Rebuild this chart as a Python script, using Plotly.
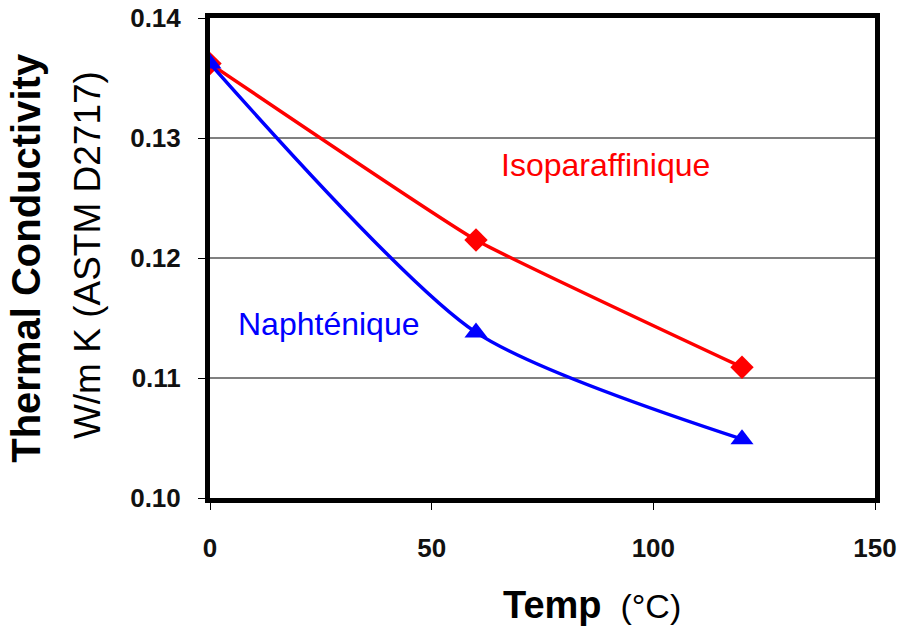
import plotly.graph_objects as go

temps = [0, 60, 120]
iso = [0.1362, 0.1215, 0.1109]
naph = [0.1362, 0.1138, 0.1049]
x_ticks = [0, 50, 100, 150]
y_ticks = [0.10, 0.11, 0.12, 0.13, 0.14]
y_ticklabels = ["0.10", "0.11", "0.12", "0.13", "0.14"]

fig = go.Figure()
fig.add_trace(go.Scatter(x=temps, y=iso, mode="lines+markers", name="Isoparaffinique",
                         line=dict(color="#ff0000", width=3.5, shape="spline", smoothing=0.35),
                         marker=dict(symbol="diamond", size=18, color="#ff0000")))
fig.add_trace(go.Scatter(x=temps, y=naph, mode="lines+markers", name="Naphténique",
                         line=dict(color="#0000ff", width=3.5, shape="spline", smoothing=0.7),
                         marker=dict(symbol="triangle-up", size=20, color="#0000ff")))

fig.add_annotation(x=89.3, y=0.12775, xref="x", yref="y", text="Isoparaffinique",
                   showarrow=False, font=dict(color="#ff0000", size=32, family="Liberation Sans"))
fig.add_annotation(x=26.8, y=0.1145, xref="x", yref="y", text="Naphténique",
                   showarrow=False, font=dict(color="#0000ff", size=32, family="Liberation Sans"))

fig.add_annotation(x=-0.277, y=0.5, xref="paper", yref="paper", text="<b>Thermal Conductivity</b>",
                   textangle=-90, showarrow=False, xanchor="center", yanchor="middle",
                   font=dict(color="black", size=40, family="Liberation Sans"))
fig.add_annotation(x=-0.185, y=0.506, xref="paper", yref="paper", text="W/m K (ASTM D2717)",
                   textangle=-90, showarrow=False, xanchor="center", yanchor="middle",
                   font=dict(color="black", size=37, family="Liberation Sans"))
fig.add_annotation(x=(592 - 210) / 665, y=-0.223, xref="paper", yref="paper",
                   xanchor="center", yanchor="middle",
                   text="<b>Temp</b><span style='font-size:34px'>  (°C)</span>",
                   showarrow=False, font=dict(color="black", size=38, family="Liberation Sans"))

fig.update_xaxes(range=[0, 150], tickvals=x_ticks, ticks="outside", ticklen=7, tickwidth=1,
                 tickcolor="black", showline=True, linecolor="black", linewidth=5, mirror=True,
                 showgrid=False, zeroline=False, ticklabelstandoff=16, automargin=False,
                 tickfont=dict(size=26, color="#111", family="Liberation Sans", weight="bold"))
fig.update_yaxes(range=[0.10, 0.14], tickvals=y_ticks, ticktext=y_ticklabels, ticks="outside",
                 ticklen=7, tickwidth=1, tickcolor="black", showline=True, linecolor="black",
                 linewidth=5, mirror=True, showgrid=True, gridcolor="#808080", gridwidth=2,
                 zeroline=False, ticklabelstandoff=12, automargin=False,
                 tickfont=dict(size=26, color="#111", family="Liberation Sans", weight="bold"))

fig.update_layout(width=901, height=630, margin=dict(l=210, r=26, t=18, b=132),
                  plot_bgcolor="white", paper_bgcolor="white", showlegend=False)
fig.write_html("out.html")
